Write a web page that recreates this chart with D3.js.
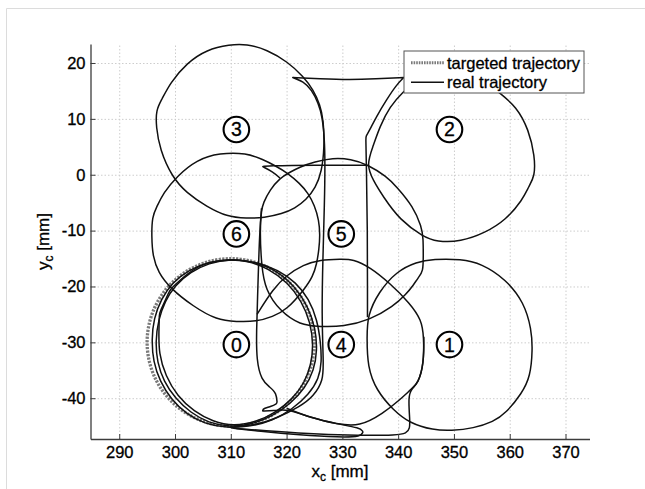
<!DOCTYPE html>
<html><head><meta charset="utf-8">
<script src="https://cdn.jsdelivr.net/npm/d3@7"></script>
<style>
body{margin:0;background:#fff}
text{font-family:"Liberation Sans",Arial,Helvetica,sans-serif;fill:#000;stroke:#000;stroke-width:0.3px}
</style>
</head><body>
<svg id="chart" width="645" height="489"></svg>
<script>
// ---- data (mm) ----
const xTicks = [290, 300, 310, 320, 330, 340, 350, 360, 370];
const yTicks = [-40, -30, -20, -10, 0, 10, 20];
const targetCenter = [310, -30];
const targetRadius = 15;
const targetIds = ["0", "1", "2", "3", "4", "5", "6"];
const targetX = [311, 349.2, 349.2, 311, 329.8, 329.8, 311];
const targetY = [-30.4, -30.4, 8.1, 8.1, -30.4, -10.6, -10.6];
const legendLabels = ["targeted trajectory", "real trajectory"];

// real trajectory pieces (x, y in mm); repeated points mark sharp corners
const loop0a = [[310,-15.1],[306,-15.6],[302.5,-17],[299.5,-19.3],[297.5,-22.3],[296.2,-25.7],[295.8,-29.5],[296.1,-33.5],[297.3,-37],[299.3,-40.2],[302,-42.8],[305.3,-44.6],[309.3,-45.3],[313.5,-45.1],[317.5,-44],[321,-42],[324,-39.3],[325.8,-36.5],[326.3,-33.5],[326.1,-30],[325.5,-26],[324,-22.2],[321.7,-19.3],[318.5,-17],[314.5,-15.6],[310,-15.1]];
const loop0b = [[310,-15.1],[306,-15.8],[302.8,-17.4],[300,-19.8],[298.2,-22.6],[297,-26],[296.5,-29.8],[296.8,-33.6],[298,-37],[300,-40],[302.8,-42.6],[306,-44.4],[309.8,-45.2],[313.8,-44.7],[317.5,-43.2],[320.7,-41],[323.3,-38.2],[324.9,-35],[325.5,-31.5],[325.2,-27.5],[323.8,-23.5],[321.5,-20],[318.3,-17.2],[314.3,-15.5],[310,-15.1]];
const loop0c = [[299.1,-20.6],[299.1,-20.6],[297.2,-24.8],[297.2,-24.8],[297.1,-28],[297.1,-32],[298.3,-36],[300.4,-39.6],[303.4,-42.4],[306.8,-44.2],[310.5,-45],[314.5,-44.3],[318,-42.6],[321,-40.2],[323.2,-37.3],[324.4,-34],[324.8,-30.5],[324.3,-26.5],[322.7,-22.6],[320.2,-19.3],[316.8,-16.8],[313,-15.4],[309.5,-15.1],[305.5,-15.7],[302.2,-17.6],[299.1,-20.6]];
const circle1 = [[334.5,-25.2],[336.5,-21],[339.7,-17.3],[343.3,-15.6],[346.3,-15.1],[351.3,-15.1],[354.9,-15.9],[359.3,-18.7],[362.6,-22.9],[363.9,-27.7],[364.1,-31.3],[363.7,-36.1],[362.2,-39.1],[359.3,-42.7],[357.1,-44.2],[353.5,-45.4],[349.5,-45.8],[346.3,-45.7],[342.1,-44.5],[339.1,-42.1],[336.1,-38.6],[334.5,-34.4],[334.4,-29],[334.5,-25.2]];
const circle2 = [[334.3,1.8],[335.5,5.1],[336.7,8.6],[338.5,12.2],[340.9,14.9],[343,16.6],[346,17.8],[349.5,18.3],[353,17.9],[356,16.4],[358.2,14.6],[361.2,12.2],[363.4,8.1],[364.5,3.3],[364.5,-0.3],[363.4,-2.1],[362.3,-4.5],[359.3,-8.1],[355.6,-10.4],[351.2,-12],[346.9,-12],[344.5,-11.1],[340.3,-8.1],[337.3,-3.9],[335.5,-1],[334.3,1.8]];
const circle3 = [[309.8,23.3],[312.8,23.4],[316.5,22.4],[320.2,20.2],[323,17.6],[324.8,15.2],[326,12.5],[326.6,9.9],[326.8,5.1],[326.3,0.5],[325.2,-2.3],[323.5,-4.5],[321.5,-6],[319.2,-7],[316,-7.7],[312.8,-7.8],[309.3,-7.5],[305.7,-5.7],[302.1,-3.3],[299.4,-0.3],[297.3,4.5],[296.6,8.6],[296.6,11.6],[297.6,13.4],[299.1,16.4],[302.1,20],[305.7,22.4],[309.8,23.3]];
const circle4 = [[314.7,-25],[317.6,-20.4],[320,-18],[323,-16.1],[326,-15.2],[329.8,-15.1],[331.9,-15.1],[334.9,-16.5],[338.5,-19.4],[342.1,-23],[344.2,-26],[344.6,-29],[344.6,-33.8],[343.6,-37.3],[342.4,-38.3],[340.3,-40.3],[337.3,-42.7],[333.1,-45.1],[329,-44.6],[324.6,-43.6],[320,-41.8]];
const circle5 = [[328.3,3.0],[331.5,2.8],[334.6,1.8],[337.9,-0.3],[339.7,-2.1],[342.7,-5.7],[344.2,-9.3],[344.5,-11.4],[344.5,-14.5],[344.5,-17.3],[343.6,-18.4],[342.7,-19.8],[341.5,-21.3],[339.1,-23.6],[334.9,-26],[330.2,-27.2],[326,-27.2],[322.4,-26.9],[318.8,-24.4],[316.2,-20.6],[315.5,-16.4],[315.2,-9.9],[315.5,-6.3],[315.8,-5.1],[317,-2.7],[318.8,-0.6],[320.5,0.4],[322.4,1.4],[325,2.3],[328.3,3.0]];
const circle6 = [[308,3.9],[312.8,3.9],[315.8,2.7],[318,1.6],[320.2,0.3],[322.3,-1.5],[323.9,-3.3],[325,-5.5],[325.8,-8.1],[326,-10.8],[325.8,-13.4],[325.4,-16],[324.7,-18.2],[323.3,-20.4],[320,-24.2],[317.5,-25.4],[314.6,-26.3],[311,-26.3],[307.5,-26],[303.3,-23.6],[299.1,-20.3],[297,-17.5],[296,-14.6],[295.8,-11],[295.9,-7.5],[296.7,-5.8],[297.9,-3.3],[300.3,-0.3],[303.9,2.7],[308,3.9]];
const funnelPath = [[309.8,-45.2],[314.6,-44.8],[318.2,-43.6],[322.4,-41.5],[324.8,-39.7],[326.6,-36.8],[326.6,-33.5],[326.3,-25],[326.5,-15],[326.8,-5],[326.9,2.1],[326.8,6.3],[326.4,10.4],[325.7,12.8],[324.5,15.2],[323,16.7],[321.1,17.4],[321.1,17.4],[321.1,17.4],[326,17.2],[331,17.0],[336,17.15],[341,17.4],[341,17.4],[341,17.4],[339.7,16.1],[337.9,13.4],[336.1,10.4],[334.9,8.0],[334.2,6.8],[334.2,6.8],[334.3,2],[334.5,-10],[334.5,-22],[334.5,-25.5]];
const midLinePath = [[334.5,1.7],[334.5,1.7],[325,1.75],[316.3,1.6],[315.7,1.45],[315.7,1.45],[317.6,0.5],[318.8,-0.6]];
const leftDropPath = [[315.5,-6],[315.2,-10],[315,-15.2],[314.8,-22],[314.6,-28],[314.6,-33.2],[315.5,-36.8],[317,-38],[318.2,-39.1],[318.3,-40.9],[318.3,-40.9],[317.3,-41.5],[315.8,-41.8],[315.7,-42.3],[315.7,-42.3],[317.6,-42.3],[320,-41.8],[324.6,-43.6],[329,-44.6],[333.2,-45.3],[333.7,-46],[333.7,-46],[333.4,-46.9],[329.5,-47],[322.4,-46.6],[315,-45.9],[310,-45.3]];
const bottomPath = [[311,-45.4],[322,-46.3],[333.7,-46.7],[339.7,-46.6],[341.5,-46.3],[342.1,-45.4],[342.1,-43.9],[341.8,-39.7],[342.4,-38.3],[343.6,-37.3],[344.6,-33.8],[344.6,-29]];
const realPieces = [loop0a, loop0b, loop0c, circle1, circle2, circle3, circle4, circle5, circle6, funnelPath, midLinePath, leftDropPath, bottomPath];

// ---- layout ----
const svg = d3.select("#chart");
const L = 90.5, R = 589.5, T = 44, B = 439;
const x = d3.scaleLinear().domain([284.85, 374.3]).range([L, R]);
const y = d3.scaleLinear().domain([-47.3, 23.4]).range([B, T]);

// figure frame
svg.append("path").attr("d", "M6.5,489 L6.5,8.5 L645,8.5")
  .attr("fill", "none").attr("stroke", "#dcdcdc").attr("stroke-width", 1);

// grid
const gridX = svg.append("g").attr("transform", `translate(0,${B})`)
  .call(d3.axisBottom(x).tickValues(xTicks).tickSize(-(B - T)).tickFormat(""));
const gridY = svg.append("g").attr("transform", `translate(${L},0)`)
  .call(d3.axisLeft(y).tickValues(yTicks).tickSize(-(R - L)).tickFormat(""));
[gridX, gridY].forEach(g => {
  g.select(".domain").remove();
  g.selectAll(".tick line").attr("stroke", "#cdcdcd").attr("stroke-width", 1).attr("stroke-dasharray", "1.5,2");
});

svg.append("clipPath").attr("id", "clip").append("rect")
  .attr("x", L).attr("y", T - 2).attr("width", R - L).attr("height", B - T + 2);
const plot = svg.append("g").attr("clip-path", "url(#clip)");

// targeted trajectory
plot.append("circle")
  .attr("cx", x(targetCenter[0])).attr("cy", y(targetCenter[1]))
  .attr("r", x(targetCenter[0] + targetRadius) - x(targetCenter[0]))
  .attr("fill", "none").attr("stroke", "#7a7a7a").attr("stroke-width", 3.3)
  .attr("stroke-dasharray", "2.2,1.3");

// real trajectory
const isClosed = p => p[0][0] === p[p.length - 1][0] && p[0][1] === p[p.length - 1][1];
const openLine = d3.line().x(d => x(d[0])).y(d => y(d[1])).curve(d3.curveBasis);
const closedLine = d3.line().x(d => x(d[0])).y(d => y(d[1])).curve(d3.curveBasisClosed);
plot.selectAll("path.real").data(realPieces).enter().append("path")
  .attr("class", "real")
  .attr("d", p => isClosed(p) ? closedLine(p.slice(0, -1)) : openLine(p))
  .attr("fill", "none").attr("stroke", "#111").attr("stroke-width", 1.5)
  .attr("stroke-linejoin", "round");

// axes
const axX = svg.append("g").attr("transform", `translate(0,${B})`)
  .call(d3.axisBottom(x).tickValues(xTicks).tickSizeInner(-5).tickSizeOuter(0).tickPadding(7).tickFormat(d3.format("d")));
const axY = svg.append("g").attr("transform", `translate(${L},0)`)
  .call(d3.axisLeft(y).tickValues(yTicks).tickSizeInner(-5).tickSizeOuter(0).tickPadding(5).tickFormat(d => String(d)));
[axX, axY].forEach(g => {
  g.select(".domain").attr("stroke", "#3c3c3c").attr("stroke-width", 1.3);
  g.selectAll(".tick line").attr("stroke", "#3c3c3c");
  g.selectAll(".tick text").attr("font-size", 16.5).attr("font-family", "'Liberation Sans',Arial,sans-serif").attr("fill", "#000");
});

// axis labels
const xl = svg.append("text").attr("x", (L + R) / 2).attr("y", 477).attr("text-anchor", "middle").attr("font-size", 17);
xl.append("tspan").text("x");
xl.append("tspan").attr("dy", 4).attr("font-size", 12).text("c");
xl.append("tspan").attr("dy", -4).text(" [mm]");
const yl = svg.append("text").attr("transform", `translate(49,${(T + B) / 2}) rotate(-90)`).attr("text-anchor", "middle").attr("font-size", 17);
yl.append("tspan").text("y");
yl.append("tspan").attr("dy", 4).attr("font-size", 12).text("c");
yl.append("tspan").attr("dy", -4).text(" [mm]");

// target labels (circled numbers)
const lab = svg.selectAll("g.lab").data(targetIds).enter().append("g")
  .attr("transform", (d, i) => `translate(${x(targetX[i])},${y(targetY[i])})`);
lab.append("circle").attr("r", 12.8).attr("fill", "#fff").attr("stroke", "#000").attr("stroke-width", 2.1);
lab.append("text").attr("text-anchor", "middle").attr("y", 7).attr("font-size", 19.5).text(d => d);

// legend
const lg = svg.append("g");
lg.append("rect").attr("x", 404).attr("y", 51).attr("width", 180).attr("height", 42)
  .attr("fill", "#fff").attr("stroke", "#555").attr("stroke-width", 1);
const legY = [62.7, 82.3];
lg.append("line").attr("x1", 411).attr("x2", 444).attr("y1", legY[0]).attr("y2", legY[0])
  .attr("stroke", "#7a7a7a").attr("stroke-width", 3).attr("stroke-dasharray", "1.6,1");
lg.append("line").attr("x1", 411).attr("x2", 444).attr("y1", legY[1]).attr("y2", legY[1])
  .attr("stroke", "#111").attr("stroke-width", 1.5);
lg.selectAll("text").data(legendLabels).enter().append("text")
  .attr("x", 447).attr("y", (d, i) => legY[i] + 6).attr("font-size", 16.5).text(d => d);
</script>
</body></html>
